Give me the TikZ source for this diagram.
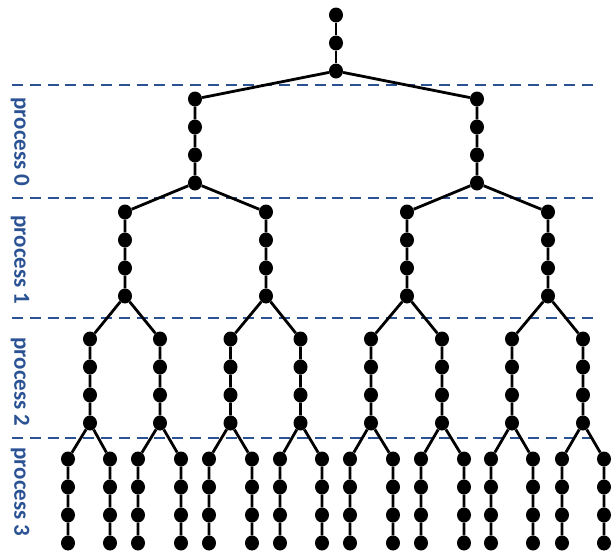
\documentclass[tikz,border=0pt]{standalone}
\usepackage{fontspec}
\setmainfont{Carlito}
\newfontfamily\lblfont{Carlito}
\usetikzlibrary{shapes.geometric}
\definecolor{procblue}{HTML}{2B5394}
\begin{document}
\begin{tikzpicture}[x=1pt,y=-1pt,
  dot/.style={ellipse,fill=black,inner sep=0pt,minimum width=14pt,minimum height=15pt},
  edge/.style={draw=black,line width=2.8pt},
  sep/.style={draw=procblue,line width=2.8pt,dash pattern=on 11pt off 6.8pt},
  lbl/.style={rotate=-90,text=procblue,font=\lblfont\fontsize{23pt}{24pt}\selectfont\bfseries,inner sep=0pt}]
\useasboundingbox (0,0) rectangle (616,550);
% separators
\coordinate (s0a) at (12,85);  \coordinate (s0b) at (598,85);
\coordinate (s1a) at (12,198); \coordinate (s1b) at (598,198);
\coordinate (s2a) at (12,318); \coordinate (s2b) at (598,318);
\coordinate (s3a) at (12,438); \coordinate (s3b) at (598,438);
\foreach \s in {0,1,2,3} \draw[sep] (s\s a) -- (s\s b);
% labels
\node[lbl] (p0) at (20,142) {process 0};
\node[lbl] (p1) at (20,260) {process 1};
\node[lbl] (p2) at (20,382) {process 2};
\node[lbl] (p3) at (20,492) {process 3};
% root chain
\foreach \y [count=\k] in {15,43,71} \node[dot] (t\k) at (336,\y) {};
\draw[edge] (t1) -- (t2) -- (t3);
% level 1
\foreach \x [count=\i] in {195,477}
  \foreach \y [count=\k] in {99,127,155,183}
    \node[dot] (a\i-\k) at (\x,\y) {};
\foreach \i in {1,2}
  \draw[edge] (t3) -- (a\i-1) -- (a\i-2) -- (a\i-3) -- (a\i-4);
% level 2
\foreach \x [count=\i] in {125,266,407,548}
  \foreach \y [count=\k] in {212,240,268,296}
    \node[dot] (b\i-\k) at (\x,\y) {};
\foreach \i in {1,...,4}{
  \pgfmathtruncatemacro\p{int((\i+1)/2)}
  \draw[edge] (a\p-4) -- (b\i-1) -- (b\i-2) -- (b\i-3) -- (b\i-4);
}
% level 3
\foreach \x [count=\i] in {90,160,230.5,300.5,371,442,512,583}
  \foreach \y [count=\k] in {339,367,395,423}
    \node[dot] (c\i-\k) at (\x,\y) {};
\foreach \i in {1,...,8}{
  \pgfmathtruncatemacro\p{int((\i+1)/2)}
  \draw[edge] (b\p-4) -- (c\i-1) -- (c\i-2) -- (c\i-3) -- (c\i-4);
}
% level 4
\foreach \x [count=\i] in {68,110,138,181,209,252,280,322,350,393,421,464,491,533,562,604}
  \foreach \y [count=\k] in {459,487,515,543}
    \node[dot] (d\i-\k) at (\x,\y) {};
\foreach \i in {1,...,16}{
  \pgfmathtruncatemacro\p{int((\i+1)/2)}
  \draw[edge] (c\p-4) -- (d\i-1) -- (d\i-2) -- (d\i-3) -- (d\i-4);
}
\end{tikzpicture}
\end{document}
